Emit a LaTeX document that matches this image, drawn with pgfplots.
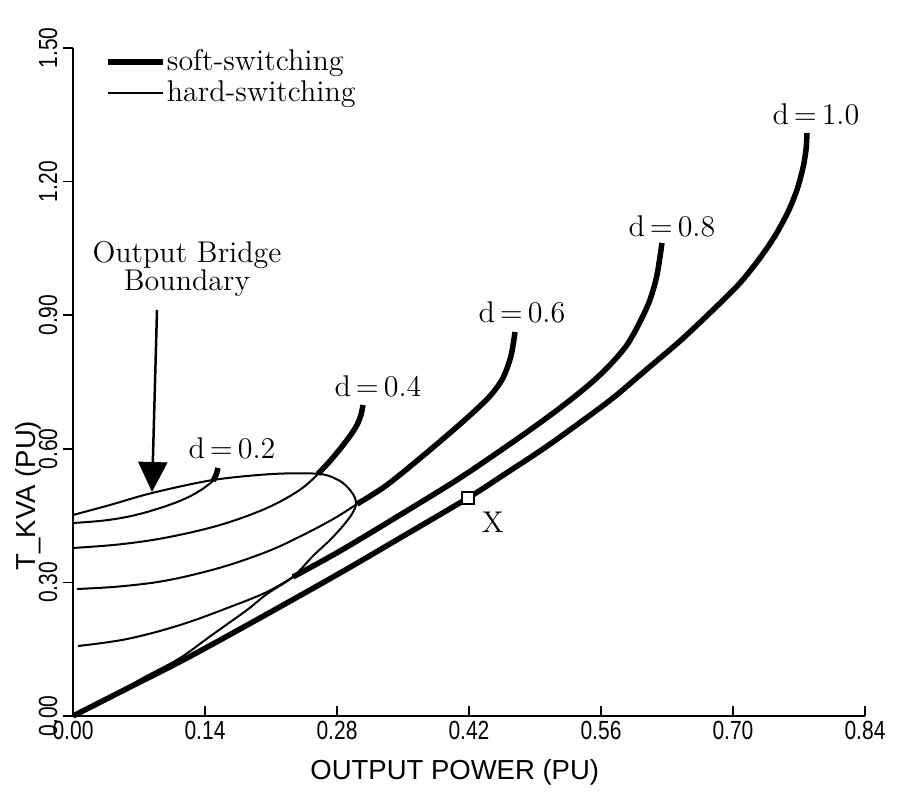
\documentclass[border=0pt]{standalone}
\usepackage{fontspec}
\usepackage{pgfplots}
\pgfplotsset{compat=1.18}
\usetikzlibrary{arrows.meta}
\newfontfamily\tickfont{Liberation Sans}[FakeStretch=0.8]
\newfontfamily\labfont{Liberation Sans}
\begin{document}
\begin{tikzpicture}
\begin{axis}[
  width=316.8pt, height=267.2pt, scale only axis,
  xmin=0, xmax=0.84, ymin=0, ymax=1.5,
  axis lines=left, axis line style={-, line width=0.9pt},
  xtick={0,0.14,0.28,0.42,0.56,0.70,0.84},
  xticklabels={0.00,0.14,0.28,0.42,0.56,0.70,0.84},
  ytick={0,0.3,0.6,0.9,1.2,1.5},
  yticklabels={0.00,0.30,0.60,0.90,1.20,1.50},
  tick align=inside,
  major tick length=4pt,
  tick style={black, line width=0.7pt},
  ytick style={xshift=-4pt},
  ticklabel style={font=\tickfont\fontsize{10.5}{12}\selectfont},
  yticklabel style={rotate=90, anchor=south, inner sep=0pt, yshift=6pt},
  xticklabel style={anchor=north, inner sep=2pt},
  xlabel={OUTPUT POWER (PU)}, ylabel={T\_KVA (PU)},
  label style={font=\labfont\fontsize{11}{13}\selectfont},
  xlabel style={at={(axis description cs:0.482,0)}, anchor=north, yshift=-14pt},
  ylabel style={at={(axis description cs:-0.039,0.33)}, anchor=south, inner sep=0pt},
  legend style={at={(axis description cs:0.040,1.0)}, anchor=north west, draw=none, fill=none,
     font=\fontsize{12}{12}\selectfont, row sep=1.5pt, inner sep=0pt, nodes={inner sep=0.5pt}},
  legend cell align=left,
  legend image code/.code={\draw[#1] (0pt,0pt) -- (22pt,0pt);},
  clip=false,
]
\addlegendimage{black, line width=2.2pt}
\addlegendentry{soft-switching}
\addlegendimage{black, line width=0.8pt}
\addlegendentry{hard-switching}

% Output bridge boundary (thin)
\addplot[black, line width=0.8pt, smooth, tension=0.5, forget plot] coordinates {
(0,0.4514)(0.0392,0.4738)(0.0838,0.5008)(0.1485,0.5300)(0.2121,0.5435)(0.2620,0.5435)
(0.2832,0.5277)(0.2938,0.5075)(0.2991,0.4896)(0.3001,0.4738)(0.2959,0.4536)(0.2863,0.4267)
(0.2726,0.3952)(0.2545,0.3593)(0.2333,0.3122)(0.2057,0.2740)(0.1845,0.2380)(0.1474,0.1819)
(0.1135,0.1302)(0.0742,0.0853)(0.0392,0.0427)(0,0)};

% d = 0.2
\addplot[black, line width=0.8pt, smooth, tension=0.6, forget plot] coordinates {
(0,0.4334)(0.0339,0.4392)(0.0636,0.4500)(0.0923,0.4670)(0.1167,0.4860)(0.1347,0.5060)(0.1485,0.5277)};
\addplot[black, line width=2.2pt, smooth, tension=0.5, forget plot] coordinates {
(0.1485,0.5277)(0.1517,0.5412)(0.1538,0.5569)};

% d = 0.4
\addplot[black, line width=0.8pt, smooth, tension=0.6, forget plot] coordinates {
(0,0.3773)(0.0498,0.3855)(0.0997,0.4010)(0.1559,0.4289)(0.2057,0.4671)(0.2407,0.5080)(0.2598,0.5435)};
\addplot[black, line width=2.2pt, smooth, tension=0.5, forget plot] coordinates {
(0.2598,0.5435)(0.2726,0.5726)(0.2832,0.5995)(0.2938,0.6288)(0.3012,0.6535)(0.3054,0.6760)(0.3076,0.6984)};

% d = 0.6
\addplot[black, line width=0.8pt, smooth, tension=0.6, forget plot] coordinates {
(0.0042,0.2852)(0.0498,0.2910)(0.0997,0.3045)(0.1559,0.3330)(0.2057,0.3690)(0.2407,0.4030)(0.2757,0.4420)(0.3012,0.4761)};
\addplot[black, line width=2.2pt, smooth, tension=0.5, forget plot] coordinates {
(0.3012,0.4761)(0.3330,0.5188)(0.3786,0.5974)(0.4179,0.6692)(0.4423,0.7186)(0.4560,0.7590)(0.4645,0.8084)(0.4688,0.8623)};

% d = 0.8
\addplot[black, line width=0.8pt, smooth, tension=0.6, forget plot] coordinates {
(0.0053,0.1572)(0.0573,0.1729)(0.1135,0.2043)(0.1665,0.2448)(0.2057,0.2785)(0.2333,0.3122)};
\addplot[black, line width=2.2pt, smooth, tension=0.5, forget plot] coordinates {
(0.2333,0.3122)(0.2832,0.3705)(0.3468,0.4514)(0.4104,0.5345)(0.4741,0.6265)(0.5165,0.6917)
(0.5483,0.7456)(0.5695,0.7882)(0.5875,0.8331)(0.6013,0.8848)(0.6119,0.9342)(0.6194,0.9903)(0.6247,1.0622)};

% d = 1.0
\addplot[black, line width=2.2pt, smooth, tension=0.5, forget plot] coordinates {
(0,0)(0.0605,0.0651)(0.1209,0.1302)(0.1983,0.2201)(0.2832,0.3211)(0.3468,0.3997)(0.4189,0.4896)
(0.4582,0.5435)(0.4985,0.5996)(0.5356,0.6557)(0.5727,0.7141)(0.6077,0.7770)(0.6438,0.8421)
(0.6788,0.9118)(0.7074,0.9724)(0.7286,1.0285)(0.7445,1.0779)(0.7583,1.1318)(0.7678,1.1812)
(0.7742,1.2306)(0.7774,1.2711)(0.7785,1.3092)};

% operating point X
\addplot[only marks, mark=square*, mark size=2.4pt, mark options={fill=white, draw=black, line width=0.8pt}, forget plot] coordinates {(0.419,0.489)};

\node[font=\fontsize{12}{12}\selectfont] at (axis cs:0.4454,0.4357) {X};
\node[font=\fontsize{12}{12}\selectfont] at (axis cs:0.1687,0.6018) {d\,=\,0.2};
\node[font=\fontsize{12}{12}\selectfont] at (axis cs:0.3235,0.7410) {d\,=\,0.4};
\node[font=\fontsize{12}{12}\selectfont] at (axis cs:0.4762,0.9073) {d\,=\,0.6};
\node[font=\fontsize{12}{12}\selectfont] at (axis cs:0.6353,1.1004) {d\,=\,0.8};
\node[font=\fontsize{12}{12}\selectfont] at (axis cs:0.7880,1.3519) {d\,=\,1.0};
\node[font=\fontsize{12}{11.5}\selectfont, align=center] at (axis cs:0.1209,1.0038) {Output Bridge\\Boundary};
\draw[line width=1pt, -{Triangle[width=11.6pt,length=12pt]}] (axis cs:0.0891,0.9117) -- (axis cs:0.0838,0.503);
\end{axis}
\path (current axis.south west) ++(-29.2pt,-24pt) rectangle ++(366.4pt,310.4pt);
\end{tikzpicture}
\end{document}
